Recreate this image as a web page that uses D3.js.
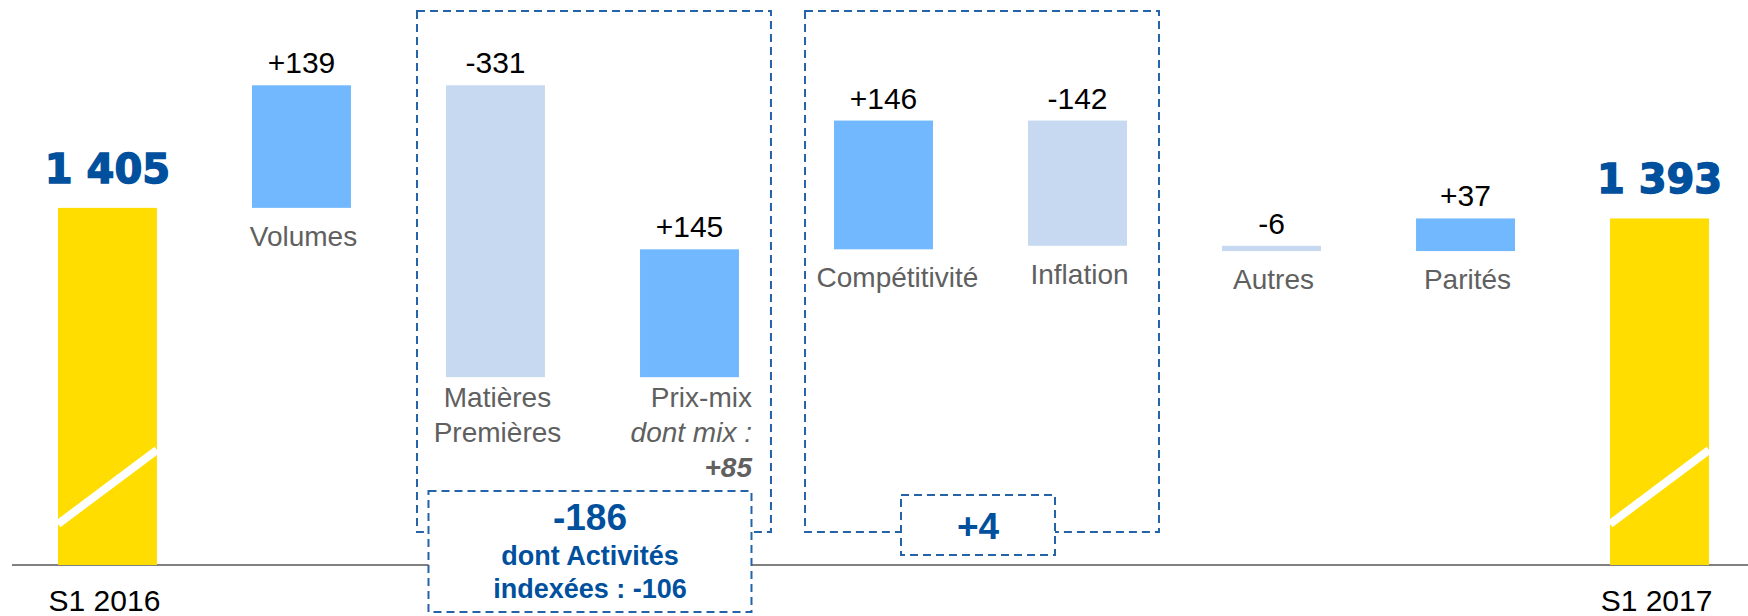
<!DOCTYPE html>
<html>
<head>
<meta charset="utf-8">
<script src="https://cdn.jsdelivr.net/npm/d3@7"></script>
<style>
  body { margin: 0; background: #fff; }
  text { font-family: "Liberation Sans", Arial, sans-serif; }
</style>
</head>
<body>
<div id="chart"></div>
<script>
// waterfall data
const categories = ["S1 2016", "Volumes", "Matières Premières", "Prix-mix", "Compétitivité", "Inflation", "Autres", "Parités", "S1 2017"];
const values = [1405, 139, -331, 145, 146, -142, -6, 37, 1393];
const isTotal = [true, false, false, false, false, false, false, false, true];
const valueLabels = ["1 405", "+139", "-331", "+145", "+146", "-142", "-6", "+37", "1 393"];
const catLines = [["S1 2016"], ["Volumes"], ["Matières", "Premières"], ["Prix-mix"], ["Compétitivité"], ["Inflation"], ["Autres"], ["Parités"], ["S1 2017"]];

// the two bracketed groups
const groupMembers = [["Matières Premières", "Prix-mix"], ["Compétitivité", "Inflation"]];
const groupTotals = ["-186", "+4"];
const groupNotes = [["dont Activités", "indexées : -106"], []];

const W = 1748, H = 616;
const axisFloor = 1000;   // axis is cut, baseline = 1000

const svg = d3.select("#chart").append("svg")
  .attr("width", W)
  .attr("height", H);

const x = d3.scaleBand()
  .domain(categories)
  .range([58, 1709])
  .paddingInner(0.49)
  .paddingOuter(0);

const y = d3.scaleLinear()
  .domain([axisFloor, 1550])
  .range([565, 80]);

const bw = x.bandwidth();
const base = y(axisFloor);

// compute running start/end
let running = 0;
const bars = categories.map((c, i) => {
  let lo, hi;
  if (isTotal[i]) {
    lo = axisFloor; hi = values[i]; running = values[i];
  } else {
    const s = running, e = running + values[i];
    lo = Math.min(s, e); hi = Math.max(s, e); running = e;
  }
  return { cat: c, i: i, lo: lo, hi: hi, v: values[i] };
});

function barColour(d) {
  if (isTotal[d.i]) return "#FFDD00";
  return d.v >= 0 ? "#71B8FF" : "#C6D9F0";
}

// baseline
svg.append("line")
  .attr("x1", 12).attr("x2", W)
  .attr("y1", base).attr("y2", base)
  .attr("stroke", "#808080")
  .attr("stroke-width", 2);

svg.selectAll("rect.bar")
  .data(bars)
  .enter()
  .append("rect")
  .attr("class", "bar")
  .attr("x", d => x(d.cat))
  .attr("y", d => y(d.hi))
  .attr("width", bw)
  .attr("height", d => Math.max(1, y(d.lo) - y(d.hi)))
  .attr("fill", d => barColour(d));

// break marks on the total bars
svg.selectAll("line.brk")
  .data(bars.filter(d => isTotal[d.i]))
  .enter()
  .append("line")
  .attr("class", "brk")
  .attr("x1", d => x(d.cat))
  .attr("x2", d => x(d.cat) + bw)
  .attr("y1", base - 41)
  .attr("y2", base - 115)
  .attr("stroke", "#fff")
  .attr("stroke-width", 8);

// value labels
svg.selectAll("text.val")
  .data(bars)
  .enter()
  .append("text")
  .attr("class", "val")
  .attr("x", d => x(d.cat) + bw / 2)
  .attr("y", d => y(d.hi) - (isTotal[d.i] ? 25 : 12))
  .attr("text-anchor", "middle")
  .style("font-size", d => isTotal[d.i] ? "40px" : "30px")
  .style("font-weight", d => isTotal[d.i] ? "bold" : "normal")
  .style("font-family", d => isTotal[d.i] ? "'DejaVu Sans', sans-serif" : null)
  .attr("fill", d => isTotal[d.i] ? "#00509E" : "#000")
  .attr("stroke", d => isTotal[d.i] ? "#00509E" : "none")
  .attr("stroke-width", d => isTotal[d.i] ? 1.4 : 0)
  .text(d => valueLabels[d.i]);

// category labels
bars.forEach(d => {
  const lines = catLines[d.i];
  if (isTotal[d.i]) {
    svg.append("text")
      .attr("x", x(d.cat) + bw / 2 - 3)
      .attr("y", 611)
      .attr("text-anchor", "middle")
      .style("font-size", "30px")
      .attr("fill", "#000")
      .text(lines[0]);
    return;
  }
  const multi = lines.length > 1 || d.cat === "Prix-mix";
  const y0 = y(d.lo) + (multi ? 30 : 38);
  if (d.cat === "Prix-mix") {
    const xr = x(d.cat) + bw + 13;
    svg.append("text").attr("x", xr).attr("y", y0)
      .attr("text-anchor", "end").style("font-size", "28px").attr("fill", "#606060")
      .text("Prix-mix");
    svg.append("text").attr("x", xr).attr("y", y0 + 35)
      .attr("text-anchor", "end").style("font-size", "28px").style("font-style", "italic")
      .attr("fill", "#606060").text("dont mix :");
    svg.append("text").attr("x", xr).attr("y", y0 + 70)
      .attr("text-anchor", "end").style("font-size", "28px").style("font-style", "italic")
      .style("font-weight", "bold").attr("fill", "#606060").text("+85");
    return;
  }
  const shift = d.cat === "Compétitivité" ? 14 : 2;
  lines.forEach((l, k) => {
    svg.append("text")
      .attr("x", x(d.cat) + bw / 2 + shift)
      .attr("y", y0 + k * 35)
      .attr("text-anchor", "middle")
      .style("font-size", "28px")
      .attr("fill", "#606060")
      .text(l);
  });
});

// dashed group boxes
const dashBlue = "#2463A8";
const outerBoxes = groupMembers.map(m => {
  const l = x(m[0]) - 29, r = x(m[m.length - 1]) + bw + 32;
  return { l: l, r: r, t: 11, b: 532 };
});

svg.selectAll("rect.outer")
  .data(outerBoxes)
  .enter()
  .append("rect")
  .attr("class", "outer")
  .attr("x", d => d.l).attr("y", d => d.t)
  .attr("width", d => d.r - d.l).attr("height", d => d.b - d.t)
  .attr("fill", "none")
  .attr("stroke", dashBlue)
  .attr("stroke-width", 2)
  .attr("stroke-dasharray", "8,5");

const innerBoxes = [
  { w: 323, t: 491, b: 612 },
  { w: 154, t: 495, b: 555 }
];

innerBoxes.forEach((bx, g) => {
  const ob = outerBoxes[g];
  const cx = (ob.l + ob.r) / 2 - 4;
  svg.append("rect")
    .attr("x", cx - bx.w / 2).attr("y", bx.t)
    .attr("width", bx.w).attr("height", bx.b - bx.t)
    .attr("fill", "#fff")
    .attr("stroke", dashBlue)
    .attr("stroke-width", 2)
    .attr("stroke-dasharray", "8,5");

  const notes = groupNotes[g];
  svg.append("text")
    .attr("x", cx)
    .attr("y", notes.length ? bx.t + 39 : bx.t + 44)
    .attr("text-anchor", "middle")
    .style("font-size", "37px")
    .style("font-weight", "bold")
    .attr("fill", "#00509E")
    .text(groupTotals[g]);

  notes.forEach((n, k) => {
    svg.append("text")
      .attr("x", cx)
      .attr("y", bx.t + 74 + k * 33)
      .attr("text-anchor", "middle")
      .style("font-size", "27px")
      .style("font-weight", "bold")
      .attr("fill", "#00509E")
      .text(n);
  });
});
</script>
</body>
</html>
